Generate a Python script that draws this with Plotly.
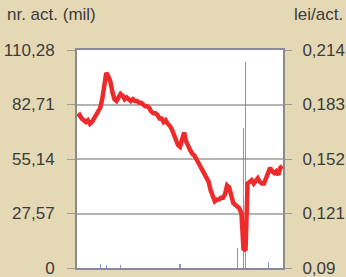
import plotly.graph_objects as go

# price series (lei/act.), one value per trading day
price = [0.176, 0.177, 0.175, 0.174, 0.173, 0.174, 0.172, 0.173, 0.175, 0.177,
         0.179, 0.181, 0.186, 0.195, 0.201, 0.199, 0.196, 0.190, 0.186, 0.185,
         0.187, 0.189, 0.188, 0.186, 0.187, 0.186, 0.185, 0.186, 0.185, 0.185,
         0.184, 0.184, 0.183, 0.182, 0.182, 0.181, 0.179, 0.178, 0.178, 0.177,
         0.175, 0.175, 0.173, 0.174, 0.172, 0.171, 0.169, 0.166, 0.163, 0.160,
         0.159, 0.163, 0.167, 0.162, 0.159, 0.157, 0.155, 0.154, 0.152, 0.150,
         0.148, 0.146, 0.144, 0.142, 0.139, 0.134, 0.130, 0.128, 0.129, 0.129,
         0.130, 0.130, 0.132, 0.137, 0.136, 0.130, 0.127, 0.126, 0.125, 0.124,
         0.121, 0.101, 0.100, 0.138, 0.139, 0.140, 0.138, 0.140, 0.141, 0.139,
         0.138, 0.138, 0.141, 0.145, 0.147, 0.145, 0.144, 0.145, 0.143, 0.147,
         0.148]
days = list(range(len(price)))

# volume (nr. act., mil)
vol_days = [11, 14, 21, 50, 78, 81, 82, 93]
volume = [2.0, 1.5, 1.5, 2.0, 10.0, 71.0, 104.0, 3.0]

left_vals = [0, 27.57, 55.14, 82.71, 110.28]
left_text = ["0", "27,57", "55,14", "82,71", "110,28"]
right_vals = [0.09, 0.121, 0.152, 0.183, 0.214]
right_text = ["0,09", "0,121", "0,152", "0,183", "0,214"]

BG = "#E5D9B5"
TXT = "#3C3C3C"
FONT = "Liberation Sans"
FS = 17

fig = go.Figure()
fig.add_trace(go.Bar(x=vol_days, y=volume, width=0.5,
                     marker=dict(color="rgba(110,128,210,0.85)", line=dict(width=0)),
                     yaxis="y", showlegend=False))
fig.add_trace(go.Scatter(x=days, y=price, mode="lines",
                         line=dict(color="#EE2A2A", width=4.5),
                         yaxis="y2", showlegend=False))

fig.update_layout(
    width=346, height=277,
    margin=dict(l=77, r=63, t=50, b=9),
    paper_bgcolor=BG, plot_bgcolor="white",
    font=dict(family=FONT, size=FS, color=TXT),
    xaxis=dict(range=[-0.3, 100.3], showticklabels=False, ticks="",
               automargin=False,
               showgrid=False, zeroline=False,
               showline=True, linecolor="#8A8A9A", linewidth=2, mirror=True),
    yaxis=dict(range=[0, 110.28], tickvals=left_vals, ticktext=left_text,
               ticks="outside", ticklen=8, tickcolor="#999999", tickwidth=1,
               ticklabeloverflow="allow", automargin=False, ticklabelstandoff=9,
               showgrid=True, gridcolor="#B4B4B4", gridwidth=1.5,
               zeroline=False, showline=True, linecolor="#8A8A8A", linewidth=2,
               mirror=True),
    yaxis2=dict(range=[0.09, 0.214], tickvals=right_vals, ticktext=right_text,
                overlaying="y", side="right",
                ticks="outside", ticklen=8, tickcolor="#999999", tickwidth=1,
                ticklabeloverflow="allow", automargin=False, ticklabelstandoff=7,
                showgrid=False, zeroline=False, showline=False),
    annotations=[
        dict(text="nr. act. (mil)", xref="paper", yref="paper",
             x=(5 - 77) / 206, y=(268 - 15) / 218, xanchor="left", yanchor="middle",
             showarrow=False, font=dict(family=FONT, size=FS, color=TXT)),
        dict(text="lei/act.", xref="paper", yref="paper",
             x=(345 - 77) / 206, y=(268 - 15) / 218, xanchor="right", yanchor="middle",
             showarrow=False, font=dict(family=FONT, size=FS, color=TXT)),
    ],
    bargap=0,
)

fig.write_html("out.html", config={"displayModeBar": False},
               post_script="document.body.style.margin='0';document.body.style.overflow='hidden';")
